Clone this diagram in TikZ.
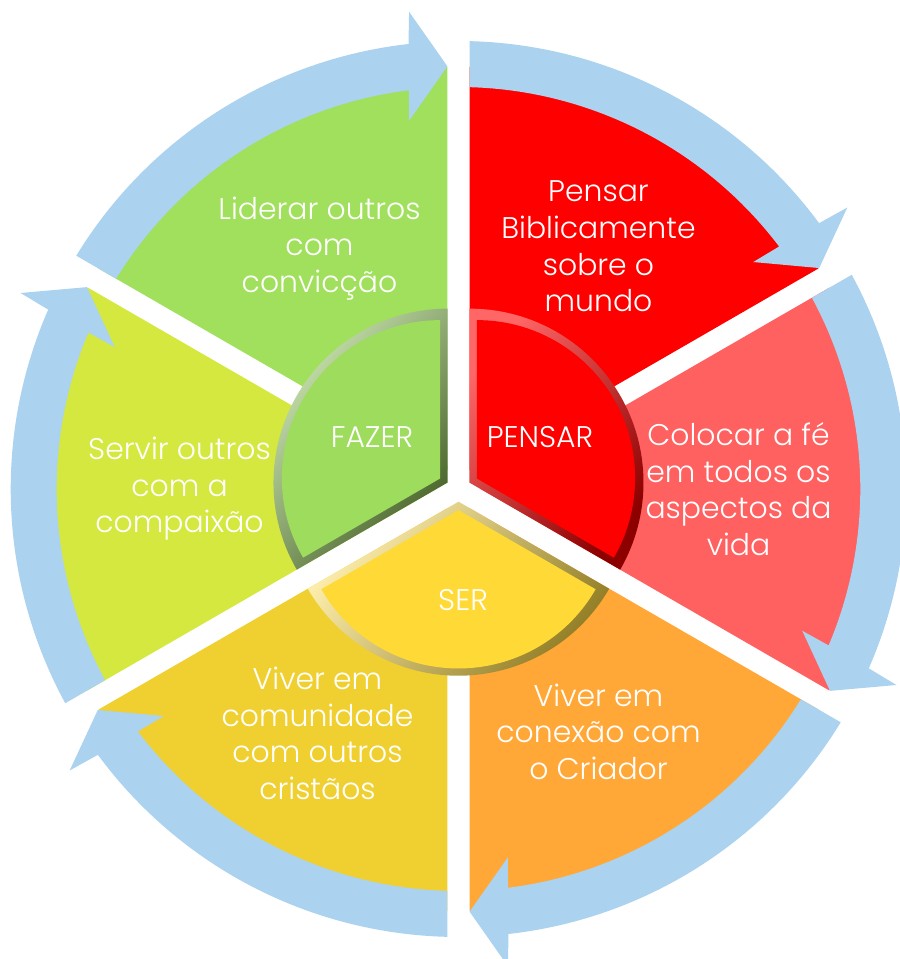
\documentclass[tikz,border=0pt]{standalone}
\usepackage{fontspec}
\setmainfont{Poppins}[UprightFont=* Light]

\definecolor{azulseta}{RGB}{171,210,238}
\definecolor{vermelho}{RGB}{255,0,0}
\definecolor{rosa}{RGB}{255,96,96}
\definecolor{laranja}{RGB}{255,168,56}
\definecolor{ouro}{RGB}{240,208,48}
\definecolor{limao}{RGB}{212,232,64}
\definecolor{verde}{RGB}{160,224,92}
\definecolor{amarelo}{RGB}{255,217,54}
\definecolor{verdepeca}{RGB}{157,220,92}

\begin{document}
\begin{tikzpicture}[scale=0.02,
	rotulo/.style={text=white, align=center, font=\fontsize{17}{20.8}\selectfont},
	centro/.style={text=white, font=\fontsize{17}{20}\selectfont}]
	\useasboundingbox (-458.5,-470) rectangle (441.5,489);

	% outer segments
	\foreach \cor [count=\k from 0] in {vermelho,rosa,laranja,ouro,limao,verde}
		\fill[\cor, rotate=-60*\k] (60:22) -- ++(90:403)
			arc[start angle=90, end angle=30, radius=403] -- cycle;

	% cycle arrows
	\foreach \k in {0,...,5}
		\fill[azulseta, rotate=-60*\k] (88.59:448) arc[start angle=88.59, end angle=36.4, radius=448]
			-- (35.9:480) -- (31.49:423) -- (37.6:372) -- (37.1:402)
			arc[start angle=37.1, end angle=88.43, radius=402] -- cycle;

	% inner pieces with bevel
	\shade[top color=vermelho!60!white, middle color=vermelho, bottom color=vermelho!55!black, shading angle=50]
		(30:12.7) -- ++(90:174) arc[start angle=90, end angle=-30, radius=174] -- cycle;
	\fill[vermelho, scale around={0.91:(30:106)}]
		(30:12.7) -- ++(90:174) arc[start angle=90, end angle=-30, radius=174] -- cycle;
	\shade[top color=amarelo!40!white, middle color=amarelo, bottom color=amarelo!55!black, shading angle=50]
		(-90:12.7) -- ++(-30:174) arc[start angle=-30, end angle=-150, radius=174] -- cycle;
	\fill[amarelo, scale around={0.91:(-90:106)}]
		(-90:12.7) -- ++(-30:174) arc[start angle=-30, end angle=-150, radius=174] -- cycle;
	\shade[top color=verdepeca!40!white, middle color=verdepeca, bottom color=verdepeca!45!black, shading angle=50]
		(150:12.7) -- ++(210:174) arc[start angle=210, end angle=90, radius=174] -- cycle;
	\fill[verdepeca, scale around={0.91:(150:106)}]
		(150:12.7) -- ++(210:174) arc[start angle=210, end angle=90, radius=174] -- cycle;

	\node[centro] (pensar) at (81.5,52) {PENSAR};
	\node[centro] (fazer) at (-86.5,52) {FAZER};
	\node[centro] (ser) at (4.5,-111) {SER};

	\node[rotulo] (mundo) at (60:280) {Pensar\\Biblicamente\\sobre o\\mundo};
	\node[rotulo] (vida) at (0:280) {Colocar a fé\\em todos os\\aspectos da\\vida};
	\node[rotulo] (criador) at (-60:280) {Viver em\\conexão com\\o Criador};
	\node[rotulo] (comunidade) at (-120:282) {Viver em\\comunidade\\com outros\\cristãos};
	\node[rotulo] (compaixao) at (180:279) {Servir outros\\com a\\compaixão};
	\node[rotulo] (conviccao) at (120:278) {Liderar outros\\com\\convicção};
\end{tikzpicture}
\end{document}
